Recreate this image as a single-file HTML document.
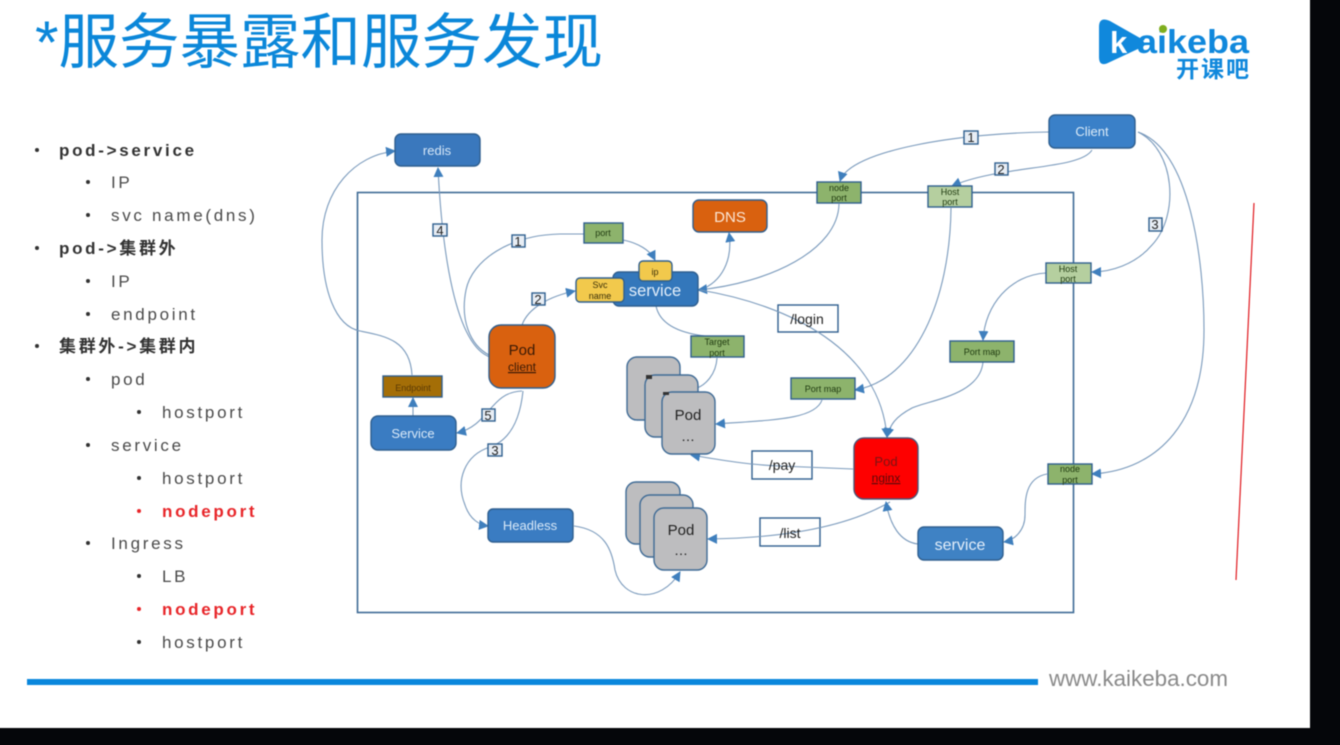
<!DOCTYPE html>
<html><head><meta charset="utf-8"><style>
html,body{margin:0;padding:0;background:#000;overflow:hidden}
svg{display:block}
#all{filter:blur(.45px)}
text{font-family:"Liberation Sans","Noto Sans CJK SC",sans-serif}
.l{font-size:17px;fill:#4a4a4a;letter-spacing:2.7px}
.b{font-weight:bold;fill:#333}
.r{fill:#e8262a;font-weight:bold}
.c{stroke:#7a9abc;stroke-width:1.1;fill:none;marker-end:url(#a)}
.n{stroke:#7a9abc;stroke-width:1.1;fill:none}
.box{stroke:#2f5f8f;stroke-width:1.4}
.t{text-anchor:middle}
.num{font-size:13px;fill:#222;text-anchor:middle}
.sm{font-size:9px;fill:#1f3a10;text-anchor:middle}
</style></head><body>
<svg width="1340" height="745" viewBox="0 0 1340 745" xmlns="http://www.w3.org/2000/svg">
<defs><marker id="a" markerUnits="userSpaceOnUse" markerWidth="11" markerHeight="11" refX="9" refY="5" orient="auto"><path d="M0 0L10 5L0 10z" fill="#3f7fbd"/></marker></defs>
<g id="all">
<rect x="-20" y="-20" width="1380" height="785" fill="#05060a"/>
<rect x="-20" y="-20" width="1330" height="748" fill="#fff"/>
<text x="35" y="63" font-size="60" fill="#0b87d9" textLength="568" lengthAdjust="spacingAndGlyphs">*服务暴露和服务发现</text>

<g>
<path d="M1099 27Q1099 16 1110 21L1140 38Q1148 43 1140 48L1110 62Q1099 68 1099 57Z" fill="#1088dc"/>
<text x="1110" y="53" font-size="31" font-weight="bold" fill="#fff">k</text>
<text x="1137" y="53" font-size="33" font-weight="bold" fill="#1088dc" textLength="112" lengthAdjust="spacingAndGlyphs">aikeba</text>
<circle cx="1163" cy="29" r="4" fill="#7fae1e"/>
<text x="1176" y="77" font-size="23" font-weight="bold" fill="#1088dc" textLength="73">开课吧</text>
</g>

<g>
<circle cx="37" cy="150" r="2" fill="#333"/><text x="59" y="156" class="l b">pod-&gt;service</text>
<circle cx="88" cy="182" r="2" fill="#333"/><text x="111" y="188" class="l">IP</text>
<circle cx="88" cy="215" r="2" fill="#333"/><text x="111" y="221" class="l">svc name(dns)</text>
<circle cx="37" cy="248" r="2" fill="#333"/><text x="59" y="254" class="l b">pod-&gt;集群外</text>
<circle cx="88" cy="281" r="2" fill="#333"/><text x="111" y="287" class="l">IP</text>
<circle cx="88" cy="314" r="2" fill="#333"/><text x="111" y="320" class="l">endpoint</text>
<circle cx="37" cy="346" r="2" fill="#333"/><text x="59" y="352" class="l b">集群外-&gt;集群内</text>
<circle cx="88" cy="379" r="2" fill="#333"/><text x="111" y="385" class="l">pod</text>
<circle cx="139" cy="412" r="2" fill="#333"/><text x="162" y="418" class="l">hostport</text>
<circle cx="88" cy="445" r="2" fill="#333"/><text x="111" y="451" class="l">service</text>
<circle cx="139" cy="478" r="2" fill="#333"/><text x="162" y="484" class="l">hostport</text>
<circle cx="139" cy="511" r="2" fill="#e8262a"/><text x="162" y="517" class="l r">nodeport</text>
<circle cx="88" cy="543" r="2" fill="#333"/><text x="111" y="549" class="l">Ingress</text>
<circle cx="139" cy="576" r="2" fill="#333"/><text x="162" y="582" class="l">LB</text>
<circle cx="139" cy="609" r="2" fill="#e8262a"/><text x="162" y="615" class="l r">nodeport</text>
<circle cx="139" cy="642" r="2" fill="#333"/><text x="162" y="648" class="l">hostport</text>
</g>

<rect x="357.500" y="192.500" width="716" height="420" fill="none" stroke="#3f6b96" stroke-width="1.6"/>

<g fill="#fff" stroke="#2f5f8f" stroke-width="1.4">
<rect x="778" y="305" width="60" height="27"/>
<rect x="752" y="451" width="60" height="28"/>
<rect x="760" y="518" width="60" height="28"/>
</g>

<!-- connectors -->
<path class="c" d="M412 375C410 340 385 336 360 331C335 326 322 290 322 240C322 190 355 155 395 151"/>
<path class="c" d="M490 357C455 345 442 250 438 168"/>
<path class="n" d="M489 355C470 345 460 320 466 290C472 260 510 235 560 234C570 234 578 234 584 234"/>
<path class="c" d="M623 240C638 243 650 250 655 260"/>
<path class="c" d="M522 325C528 308 550 296 575 291"/>
<path class="c" d="M700 290C722 282 733 260 729 233"/>
<path class="c" d="M839 204C838 250 770 283 698 290"/>
<path class="n" d="M656 306C660 325 680 333 705 336"/>
<path class="n" d="M717 358C716 375 705 385 697 388"/>
<path class="c" d="M1049 132C960 133 850 150 840 181"/>
<path class="c" d="M1092 150C1080 170 1000 165 952 186"/>
<path class="c" d="M1138 132C1175 150 1180 215 1152 245C1135 265 1110 272 1092 272"/>
<path class="c" d="M1138 132C1190 150 1204 260 1204 330C1204 420 1160 470 1092 474"/>
<path class="c" d="M951 208C950 300 915 380 855 390"/>
<path class="c" d="M1046 273C1010 275 985 305 983 340"/>
<path class="c" d="M983 362C980 395 930 400 912 408C895 417 890 425 887 437"/>
<path class="c" d="M822 400C815 420 770 420 716 424"/>
<path class="c" d="M700 290C790 305 880 350 887 437"/>
<path class="c" d="M853 469L780 466C750 465 720 460 691 455"/>
<path class="c" d="M890 502C850 525 790 538 708 539"/>
<path class="c" d="M918 544C900 542 890 525 886 502"/>
<path class="c" d="M1047 474C1025 478 1025 500 1025 515C1025 530 1015 540 1004 542"/>
<path class="c" d="M522 391C490 392 490 425 457 433"/>
<path class="c" d="M523 391C520 420 510 440 490 447C465 455 455 480 465 505C470 520 480 525 488 526"/>
<path class="c" d="M574 526C605 530 612 550 615 570C622 600 660 605 680 572"/>
<path class="c" d="M413 416L413 398"/>

<!-- nodes -->
<rect x="395" y="134" width="85" height="32" rx="6" fill="#3a78bd" class="box"/>
<text x="437" y="155" font-size="13" fill="#d6e7f7" class="t">redis</text>
<rect x="693" y="200" width="74" height="32" rx="6" fill="#d9610f" class="box"/>
<text x="730" y="222" font-size="15" fill="#fbe7d6" class="t">DNS</text>
<rect x="1049" y="115" width="86" height="33" rx="6" fill="#3a80c8" class="box"/>
<text x="1092" y="136" font-size="13" fill="#dcebf8" class="t">Client</text>

<rect x="613" y="272" width="85" height="34" rx="6" fill="#3377bb" class="box"/>
<text x="655" y="296" font-size="16.500" fill="#e2eefa" class="t">service</text>
<rect x="576" y="278" width="48" height="24" rx="4" fill="#f2c94c" class="box"/>
<text x="600" y="288" font-size="9" fill="#3a2f08" class="t">Svc</text>
<text x="600" y="299" font-size="9" fill="#3a2f08" class="t">name</text>
<rect x="639" y="261" width="33" height="20" rx="4" fill="#f2c94c" class="box"/>
<text x="655" y="275" font-size="9" fill="#3a2f08" class="t">ip</text>

<rect x="584" y="223" width="39" height="20" fill="#8db36c" class="box"/>
<text x="603" y="236" class="sm">port</text>
<rect x="691" y="336" width="53" height="21" fill="#8db36c" class="box"/>
<text x="717" y="345" class="sm">Target</text><text x="717" y="356" class="sm">port</text>
<rect x="817" y="182" width="44" height="21" fill="#8db36c" class="box"/>
<text x="839" y="191" class="sm">node</text><text x="839" y="201" class="sm">port</text>
<rect x="928" y="186" width="44" height="21" fill="#b5cf9f" class="box"/>
<text x="950" y="195" class="sm">Host</text><text x="950" y="205" class="sm">port</text>
<rect x="1046" y="263" width="45" height="20" fill="#b5cf9f" class="box"/>
<text x="1068" y="272" class="sm">Host</text><text x="1068" y="282" class="sm">port</text>
<rect x="950" y="341" width="64" height="21" fill="#8db36c" class="box"/>
<text x="982" y="355" class="sm">Port map</text>
<rect x="791" y="378" width="64" height="21" fill="#8db36c" class="box"/>
<text x="823" y="392" class="sm">Port map</text>
<rect x="1048" y="464" width="44" height="20" fill="#8db36c" class="box"/>
<text x="1070" y="472" class="sm">node</text><text x="1070" y="483" class="sm">port</text>
<rect x="383" y="376" width="59" height="21" fill="#a46e07" class="box"/>
<text x="413" y="391" font-size="9" fill="#5a3a05" class="t">Endpoint</text>

<rect x="489" y="325" width="66" height="63" rx="12" fill="#d9610f" class="box"/>
<text x="522" y="355" font-size="15" fill="#3a1a05" class="t">Pod</text>
<text x="522" y="371" font-size="12" fill="#3a1a05" class="t" text-decoration="underline">client</text>
<rect x="371" y="416" width="85" height="34" rx="7" fill="#3a7cc2" class="box"/>
<text x="413" y="438" font-size="13" fill="#d9e9f8" class="t">Service</text>
<rect x="488" y="509" width="85" height="33" rx="5" fill="#3a7cc2" class="box"/>
<text x="530" y="530" font-size="13" fill="#d9e9f8" class="t">Headless</text>

<g fill="#bdbdbf" stroke="#3f6b96" stroke-width="1.4">
<rect x="627" y="357" width="53" height="63" rx="10"/>
<rect x="645" y="375" width="53" height="62" rx="10"/>
<rect x="662" y="392" width="53" height="62" rx="10"/>
<rect x="626" y="482" width="54" height="62" rx="10"/>
<rect x="640" y="495" width="53" height="62" rx="10"/>
<rect x="654" y="508" width="53" height="62" rx="10"/>
</g>
<rect x="646" y="375" width="6" height="4" fill="#333"/>
<rect x="663" y="392" width="6" height="3" fill="#333"/>
<text x="688" y="420" font-size="15" fill="#222" class="t">Pod</text>
<text x="688" y="441" font-size="14" fill="#222" class="t">…</text>
<text x="681" y="535" font-size="15" fill="#222" class="t">Pod</text>
<text x="681" y="555" font-size="14" fill="#222" class="t">…</text>

<rect x="854" y="438" width="64" height="61" rx="10" fill="#fe0000" stroke="#49587a" stroke-width="1.4"/>
<text x="886" y="466" font-size="13" fill="#7c1414" class="t">Pod</text>
<text x="886" y="482" font-size="12" fill="#5a0a0a" class="t" text-decoration="underline">nginx</text>
<rect x="918" y="527" width="85" height="33" rx="6" fill="#3f82c4" class="box"/>
<text x="960" y="550" font-size="16" fill="#e3eefa" class="t">service</text>

<text x="807" y="324" font-size="14" fill="#222" class="t">/login</text>
<text x="782" y="470" font-size="14" fill="#222" class="t">/pay</text>
<text x="790" y="538" font-size="14" fill="#222" class="t">/list</text>

<g fill="#e8eef5" stroke="#2f5f8f" stroke-width="1.4">
<rect x="433" y="224" width="14" height="12"/>
<rect x="512" y="235" width="13" height="12"/>
<rect x="532" y="293" width="13" height="12"/>
<rect x="482" y="409" width="13" height="12"/>
<rect x="488" y="444" width="14" height="12"/>
<rect x="964" y="131" width="14" height="13"/>
<rect x="995" y="163" width="13" height="12"/>
<rect x="1149" y="218" width="13" height="13"/>
</g>
<text x="440" y="235" class="num">4</text>
<text x="518" y="246" class="num">1</text>
<text x="538" y="304" class="num">2</text>
<text x="488" y="420" class="num">5</text>
<text x="495" y="455" class="num">3</text>
<text x="971" y="142" class="num">1</text>
<text x="1001" y="174" class="num">2</text>
<text x="1155" y="229" class="num">3</text>

<line x1="1254" y1="203" x2="1236" y2="580" stroke="#e0191f" stroke-width="1.2"/>
<rect x="27" y="679" width="1011" height="6" fill="#0a87dc"/>
<text x="1049" y="686" font-size="22" fill="#8a8a8a" textLength="179" lengthAdjust="spacingAndGlyphs">www.kaikeba.com</text>
</g>
</svg>
</body></html>
